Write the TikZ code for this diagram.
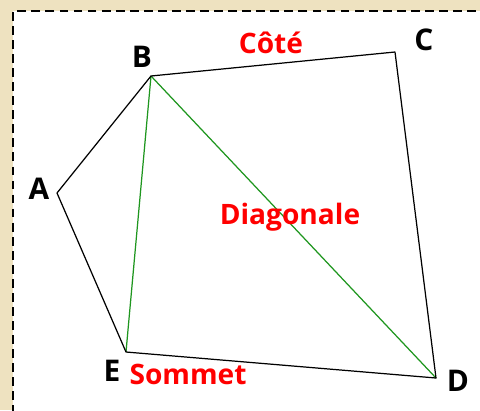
\documentclass[tikz,border=0pt]{standalone}
\usepackage{fontspec}
\setmainfont{Open Sans}
\definecolor{parch}{RGB}{238,226,192}
\definecolor{gline}{RGB}{30,150,30}
\definecolor{lred}{RGB}{255,0,0}
\begin{document}
\begin{tikzpicture}[x=0.02cm,y=-0.02cm,
  edge/.style={black, line width=0.7pt},
  diag/.style={gline, line width=0.7pt},
  vlabel/.style={font=\bfseries\fontsize{17}{17}\selectfont, text=black, inner sep=0pt},
  rlabel/.style={font=\bfseries\fontsize{16}{16}\selectfont, text=lred, inner sep=0pt}]
\fill[parch] (0,0) rectangle (480,410);
\useasboundingbox (0,0) rectangle (480,410);
\fill[white] (13,11) rectangle (490,420);
\draw[line width=1.7pt, dash pattern=on 5pt off 3pt] (490,11) -- (13,11) -- (13,420);
\coordinate (A) at (57,193);
\coordinate (B) at (151,76);
\coordinate (C) at (395,52);
\coordinate (D) at (436,378);
\coordinate (E) at (126,352);
\draw[diag] (B) -- (E);
\draw[diag] (B) -- (D);
\draw[edge, line join=round] (A) -- (B) -- (C) -- (D) -- (E) -- cycle;
\node[vlabel] (lA) at (39,189) {A};
\node[vlabel] (lB) at (142,57) {B};
\node[vlabel] (lC) at (424,40) {C};
\node[vlabel] (lD) at (458,381) {D};
\node[vlabel] (lE) at (112,371) {E};
\node[rlabel] (cote) at (271,43) {Côté};
\node[rlabel] (diagn) at (290,217) {Diagonale};
\node[rlabel] (somm) at (188,374) {Sommet};
\end{tikzpicture}
\end{document}
